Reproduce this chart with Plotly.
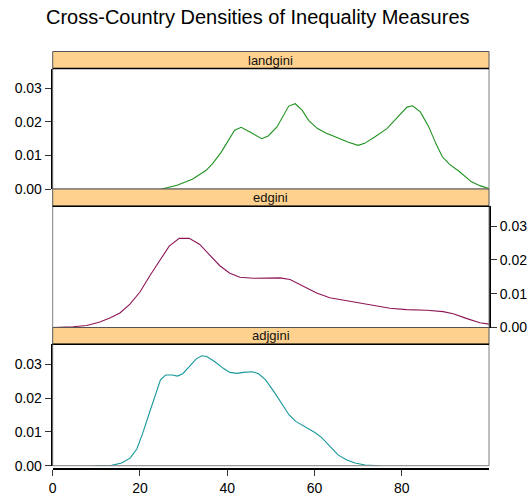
import plotly.graph_objects as go

# ---- data ----
land_x = [25, 28.5, 32, 35.1, 36.6, 38.6, 41.7, 43.2, 45.2, 47.9, 49.4, 51.4, 54.1, 55.6, 57.2, 58.7,
          60.7, 62.6, 65.3, 67.6, 70.0, 71.5, 73.8, 76.6, 78.9, 81.2, 82.5, 84.3, 86.2, 87.8, 89.3,
          90.9, 93.2, 95.9, 97.9, 100]
land_y = [0, 0.0011, 0.0029, 0.0055, 0.0075, 0.0109, 0.0175, 0.0184, 0.0170, 0.0150, 0.0158, 0.0185,
          0.0247, 0.0254, 0.0234, 0.0204, 0.0180, 0.0167, 0.0153, 0.0140, 0.0130, 0.0136, 0.0155,
          0.0180, 0.0212, 0.0244, 0.0248, 0.0229, 0.0185, 0.0136, 0.0096, 0.0074, 0.0052, 0.0022,
          0.0010, 0.0001]

ed_x = [0, 4.7, 7.8, 10.8, 13.1, 15.4, 17.7, 20.0, 22.3, 24.6, 26.7, 29.0, 31.3, 33.7, 36.0, 38.3,
        40.6, 42.9, 46.0, 49.0, 52.1, 54.4, 57.4, 60.5, 63.5, 65.8, 70.4, 73.5, 77.3, 81.1, 85.7,
        89.5, 91.8, 94.8, 97.9, 100]
ed_y = [0, 0.0002, 0.0006, 0.0016, 0.0028, 0.0043, 0.0069, 0.0105, 0.0154, 0.0201, 0.0241, 0.0264,
        0.0264, 0.0246, 0.0213, 0.0183, 0.0161, 0.0149, 0.0146, 0.0147, 0.0147, 0.0142, 0.0122,
        0.0102, 0.0088, 0.0083, 0.0073, 0.0065, 0.0057, 0.0053, 0.0051, 0.0047, 0.0041, 0.0027,
        0.0014, 0.0010]

adj_x = [9.6, 13.5, 15.8, 17.8, 19.3, 20.5, 22.0, 23.6, 24.7, 25.9, 27.4, 28.6, 29.8, 31.3, 32.9,
         34.2, 35.3, 37.1, 39.1, 40.6, 42.2, 43.7, 45.7, 47.2, 48.8, 50.7, 52.6, 54.2, 55.7, 57.7,
         60.0, 61.6, 63.5, 65.4, 67.4, 69.3, 71.6, 75.1]
adj_y = [0, 0.0001, 0.0008, 0.0023, 0.0050, 0.0091, 0.0150, 0.0214, 0.0254, 0.0268, 0.0268, 0.0265,
         0.0272, 0.0293, 0.0316, 0.0325, 0.0323, 0.0308, 0.0288, 0.0276, 0.0273, 0.0276, 0.0278,
         0.0272, 0.0254, 0.0219, 0.0180, 0.0150, 0.0131, 0.0116, 0.0099, 0.0084, 0.0057, 0.0032,
         0.0017, 0.0008, 0.0002, 0]

panel_names = ["landgini", "edgini", "adjgini"]
x_ticks = [0, 20, 40, 60, 80]
y_ticks = [0, 0.01, 0.02, 0.03]
y_tick_text = ["0.00", "0.01", "0.02", "0.03"]
title_text = "Cross-Country Densities of Inequality Measures"

# ---- layout geometry ----
W, H = 531, 497
FONT = "Liberation Sans, Arial, sans-serif"
x0, x1 = 52.7 / W, 489.0 / W
# pixel rows: (strip top, plot top, plot bottom)
rows = [(51.5, 68.5, 189.0), (189.0, 206.3, 327.5), (327.5, 344.3, 465.7)]
py = lambda v: 1 - v / H

colors = ["#1f921f", "#8e1656", "#16979a"]
series = [(land_x, land_y), (ed_x, ed_y), (adj_x, adj_y)]

fig = go.Figure()
for i, (xs, ys) in enumerate(series):
    fig.add_trace(go.Scatter(x=xs, y=ys, mode="lines",
                             line=dict(color=colors[i], width=1.1),
                             xaxis="x" if i == 0 else f"x{i+1}",
                             yaxis="y" if i == 0 else f"y{i+1}",
                             showlegend=False, hoverinfo="skip"))

layout = dict(width=W, height=H, margin=dict(l=0, r=0, t=0, b=0, autoexpand=False),
              plot_bgcolor="white", paper_bgcolor="white",
              font=dict(family=FONT, size=14, color="black"))

yrange = [0, 0.0359]
for i, (st, pt, pb) in enumerate(rows):
    xa = "xaxis" if i == 0 else f"xaxis{i+1}"
    ya = "yaxis" if i == 0 else f"yaxis{i+1}"
    yid = "y" if i == 0 else f"y{i+1}"
    xid = "x" if i == 0 else f"x{i+1}"
    layout[ya] = dict(domain=[py(pb), py(pt)], range=yrange, anchor=xid,
                      side="right" if i == 1 else "left", automargin=False,
                      tickvals=y_ticks, ticktext=y_tick_text,
                      ticks="outside", ticklen=6, tickcolor="#333", tickwidth=1,
                      showline=True, linecolor="black", linewidth=2,
                      showgrid=False, zeroline=False,
                      tickfont=dict(size=14, family=FONT, color="black"))
    if i < 2:
        layout[xa] = dict(domain=[x0, x1], range=[0, 100], anchor=yid, visible=False,
                          showgrid=False, zeroline=False, automargin=False)
    else:
        layout[xa] = dict(domain=[x0, x1], range=[0, 100], anchor="free", position=py(469.3),
                          tickvals=x_ticks, ticks="outside", ticklen=6, tickcolor="#333",
                          showline=True, linecolor="black", linewidth=2, automargin=False,
                          showgrid=False, zeroline=False,
                          tickfont=dict(size=14, family=FONT, color="black"))

shapes = []
annotations = []
for i, (st, pt, pb) in enumerate(rows):
    # panel frame
    shapes.append(dict(type="rect", xref="paper", yref="paper", x0=x0, x1=x1,
                       y0=py(pb), y1=py(pt), line=dict(color="#7f7f7f", width=1),
                       fillcolor="rgba(0,0,0,0)", layer="above"))
    # strip
    shapes.append(dict(type="rect", xref="paper", yref="paper", x0=x0, x1=x1,
                       y0=py(pt), y1=py(st), line=dict(color="#555", width=1),
                       fillcolor="#ffd18f", layer="above"))
    shapes.append(dict(type="line", xref="paper", yref="paper", x0=x0, x1=x1,
                       y0=py(pt), y1=py(pt), line=dict(color="black", width=1.5), layer="above"))
    annotations.append(dict(text=panel_names[i], xref="paper", yref="paper",
                            x=(x0 + x1) / 2, y=py((st + pt) / 2), showarrow=False,
                            xanchor="center", yanchor="middle",
                            font=dict(size=13, family=FONT, color="#111")))

annotations.append(dict(text=title_text, xref="paper", yref="paper", x=257.6 / W, y=py(17.5),
                        showarrow=False, xanchor="center", yanchor="middle",
                        font=dict(size=20, family=FONT, color="black")))
layout["shapes"] = shapes
layout["annotations"] = annotations
fig.update_layout(**layout)
fig.write_html("out.html")
